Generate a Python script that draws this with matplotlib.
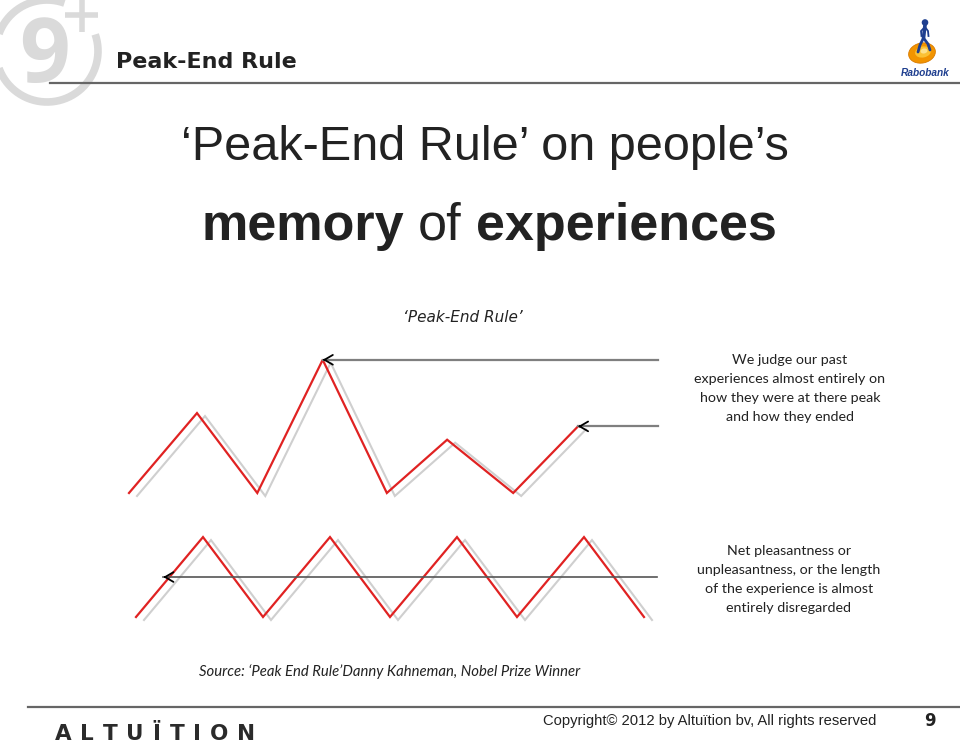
import numpy as np
import matplotlib
matplotlib.use("Agg")
import matplotlib.pyplot as plt
from matplotlib import transforms
from matplotlib.patches import Ellipse, Circle

# ---------------- data ----------------
# Top chart: an experience with a peak and an end (time steps, pleasantness)
top_times = [0, 1.06, 2.0, 3.02, 4.02, 4.96, 5.99, 7.0]
top_values = [0, 2.4, 0, 4.0, 0, 1.6, 0, 2.0]
peak_index = 3
end_index = 7

# Bottom chart: regular ups and downs
bottom_times = [0, 1.055, 2.0, 3.055, 4.0, 5.055, 6.0, 7.055, 8.0]
bottom_values = [0, 2.4, 0, 2.4, 0, 2.4, 0, 2.4, 0]
bottom_mean = 1.2
bottom_mean_span = [0.43, 8.2]

arrow_start_top = 8.25

title = "Peak-End Rule"
headline1 = "\u2018Peak-End Rule\u2019 on people\u2019s"
headline2 = [("memory", "bold"), ("of", "normal"), ("experiences", "bold")]
subtitle = "\u2018Peak-End Rule\u2019"
note_top = ["We judge our past", "experiences almost entirely on",
            "how they were at there peak", "and how they ended"]
note_bottom = ["Net pleasantness or", "unpleasantness, or the length",
               "of the experience is almost", "entirely disregarded"]
source = "Source: \u2018Peak End Rule\u2019Danny Kahneman, Nobel Prize Winner"
copyright_txt = "Copyright\u00a9 2012 by Altu\u00eftion bv, All rights reserved"
page_no = "9"
brand = "ALTU\u00cfTION"

RED = "#e02222"
SHADOW = "#cfcfcf"

# ---------------- figure ----------------
W, H = 960, 745
fig = plt.figure(figsize=(W / 100, H / 100), dpi=100)
fig.patch.set_facecolor("white")

page = fig.add_axes([0, 0, 1, 1])
page.set_xlim(0, W)
page.set_ylim(H, 0)
page.axis("off")


def chart_axes(x0, dx, y0, dy, label):
    a = fig.add_axes([0, 0, 1, 1], label=label)
    a.set_xlim((0 - x0) / dx, (W - x0) / dx)
    a.set_ylim((y0 - H) / dy, y0 / dy)
    a.axis("off")
    a.patch.set_alpha(0)
    return a


ax_top = chart_axes(129, 64.14, 493, 33.3, "top")
ax_bot = chart_axes(136, 63.5, 617, 33.3, "bottom")

for a, tt, vv in [(ax_top, top_times, top_values), (ax_bot, bottom_times, bottom_values)]:
    shadow_tr = transforms.offset_copy(a.transData, fig=fig, x=8, y=-3, units="dots")
    a.plot(tt, vv, color=SHADOW, lw=1.5, transform=shadow_tr, zorder=1,
           solid_joinstyle="miter")
    a.plot(tt, vv, color=RED, lw=1.6, zorder=2, solid_joinstyle="miter")


def arrow(a, x_from, x_to, y, color, lw):
    a.plot([x_to, x_from], [y, y], color=color, lw=lw, zorder=3)
    a.annotate("", xy=(x_to, y), xytext=(x_to + 0.04, y),
               arrowprops=dict(arrowstyle="->,head_length=0.6,head_width=0.35",
                               color="black", lw=1.3, shrinkA=0, shrinkB=0),
               zorder=4)


arrow(ax_top, arrow_start_top, top_times[peak_index], top_values[peak_index], "#7f7f7f", 1.6)
arrow(ax_top, arrow_start_top, top_times[end_index], top_values[end_index], "#7f7f7f", 1.6)
arrow(ax_bot, bottom_mean_span[1], bottom_mean_span[0], bottom_mean, "#555555", 1.2)

# ---------------- header ----------------
# 9+ logo
LG = "#dadada"
ang = np.radians(np.linspace(19, -290, 300))
page.plot(47 + 51 * np.cos(ang), 51 - 51 * np.sin(ang), color=LG, lw=5.5,
          solid_capstyle="butt", zorder=0)
page.text(44, 82, "9", fontsize=64, fontweight="bold", color=LG, ha="center",
          va="baseline", family="Open Sans", zorder=0)
page.plot([65, 98], [15, 15], color=LG, lw=4, solid_capstyle="butt", zorder=0)
page.plot([82, 82], [0, 32], color=LG, lw=4, solid_capstyle="butt", zorder=0)

page.text(116, 62, title, fontsize=16, fontweight="bold", color="#222222",
          family="DejaVu Sans", va="center", ha="left")
page.plot([50, 960], [83, 83], color="#666666", lw=1.6)

# Rabobank logo
page.add_patch(Ellipse((922, 53), 27, 20, angle=-12, facecolor="#f29400",
                       edgecolor="#d87a00", lw=0.6, zorder=3))
page.add_patch(Ellipse((923, 52), 16, 11, angle=-12, facecolor="#fbc134",
                       edgecolor="none", zorder=3))
page.add_patch(Ellipse((924, 51), 7, 5, angle=-12, facecolor="#fde08a",
                       edgecolor="none", zorder=3))
BL = "#1f3f8f"
page.add_patch(Circle((925, 22.5), 2.6, color=BL, zorder=4))
page.plot([925, 923.5], [25, 38], color=BL, lw=2.6, zorder=4, solid_capstyle="round")
page.plot([923.5, 920, 918], [38, 45, 52], color=BL, lw=2, zorder=4, solid_capstyle="round")
page.plot([923.5, 928, 930], [38, 44, 50], color=BL, lw=2, zorder=4, solid_capstyle="round")
page.plot([925, 921, 921.5], [27, 31, 36], color=BL, lw=1.3, zorder=4)
page.plot([925, 928, 928.5], [27, 31, 36], color=BL, lw=1.3, zorder=4)
page.text(925, 73, "Rabobank", fontsize=7.3, fontweight="bold", style="italic",
          color=BL, family="Liberation Sans", ha="center", va="center")

# ---------------- headline ----------------
page.text(485, 160, headline1, fontsize=35, color="#222222", family="Liberation Sans",
          ha="center", va="baseline")

renderer = fig.canvas.get_renderer()
tmp = []
widths = []
for word, wt in headline2:
    t = page.text(0, 0, word, fontsize=37.5, fontweight=wt, family="Liberation Sans")
    widths.append(t.get_window_extent(renderer).width)
    tmp.append(t)
gap = 14
total = sum(widths) + gap * (len(widths) - 1)
x = 489 - total / 2
for t, w in zip(tmp, widths):
    t.set_position((x, 240))
    t.set_va("baseline")
    t.set_color("#222222")
    x += w + gap

page.text(463, 317, subtitle, fontsize=11, style="italic", color="#222222",
          family="DejaVu Sans", ha="center", va="center")

# ---------------- notes ----------------
for i, line in enumerate(note_top):
    page.text(790, 360 + 19 * i, line, fontsize=10.3, color="#222222",
              family="Lato", ha="center", va="center")
for i, line in enumerate(note_bottom):
    page.text(789, 551 + 19 * i, line, fontsize=10.3, color="#222222",
              family="Lato", ha="center", va="center")

page.text(199, 672, source, fontsize=10.7, style="italic", color="#222222",
          family="Lato", ha="left", va="center")

# ---------------- footer ----------------
page.plot([28, 960], [707, 707], color="#666666", lw=1.6)
page.text(543, 721, copyright_txt, fontsize=10.6, color="#222222",
          family="Liberation Sans", ha="left", va="center")
page.text(930, 721, page_no, fontsize=12, fontweight="bold", color="#222222",
          family="DejaVu Sans", ha="center", va="center")

brand_texts = []
brand_w = []
for ch in brand:
    t = page.text(0, 740, ch, fontsize=15.5, fontweight="bold", color="#2b2b2b",
                  family="DejaVu Sans", ha="left", va="baseline")
    brand_texts.append(t)
    brand_w.append(t.get_window_extent(renderer).width)
spacing = (255 - 55 - sum(brand_w)) / (len(brand) - 1)
x = 55
for t, w in zip(brand_texts, brand_w):
    t.set_x(x)
    x += w + spacing

fig.savefig("out.png", dpi=100, facecolor="white")
